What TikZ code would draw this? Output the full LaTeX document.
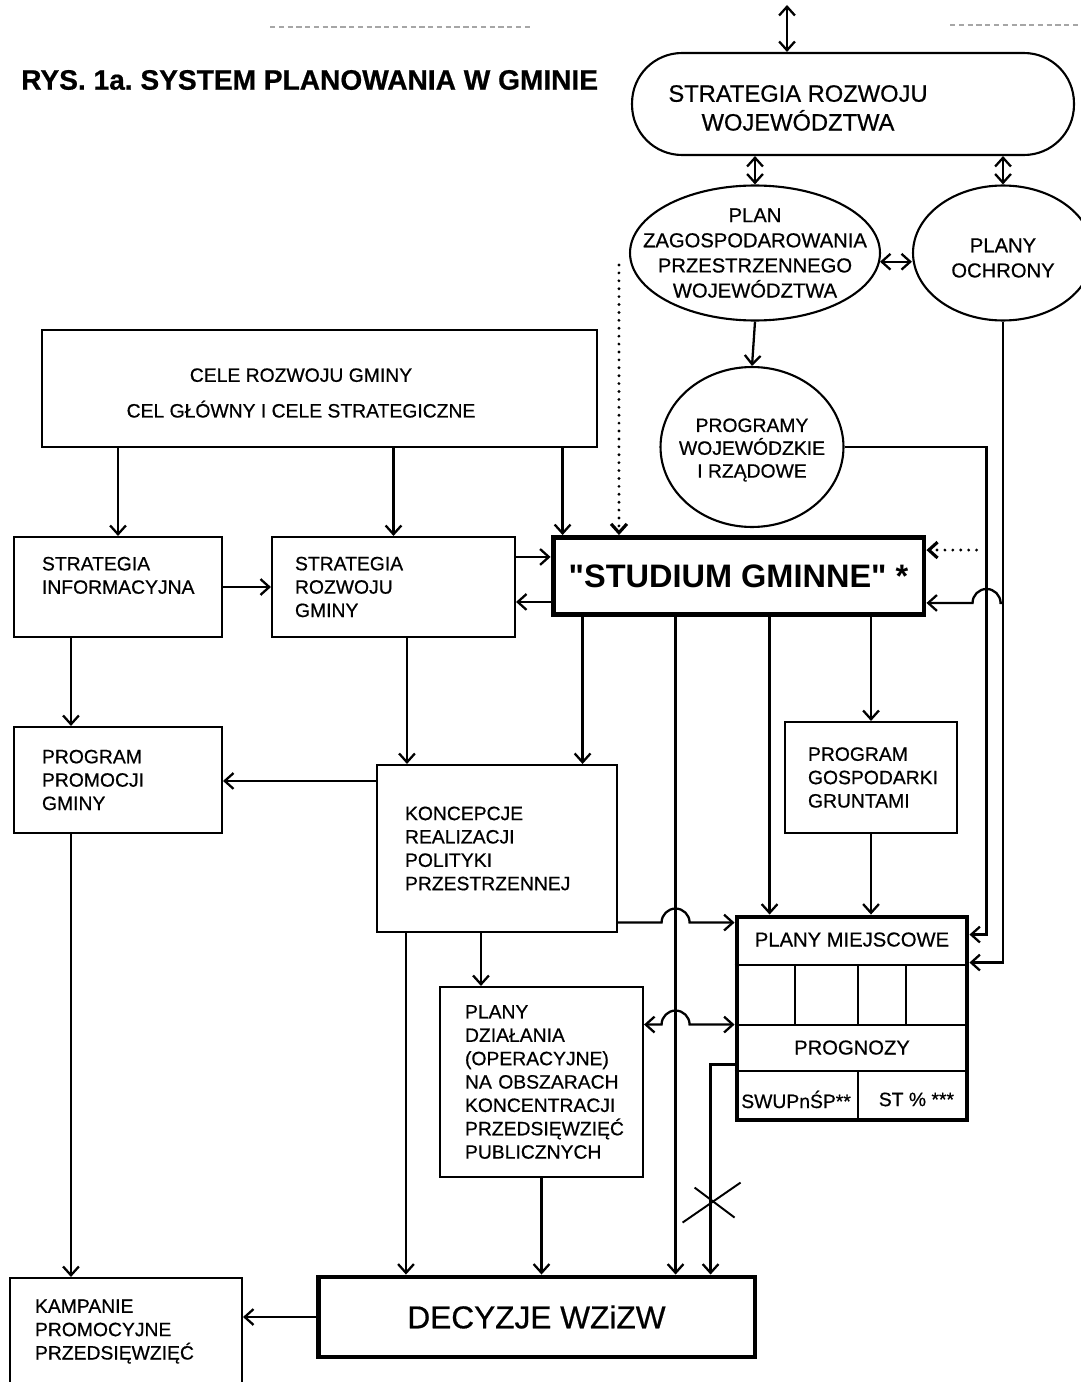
\documentclass[tikz,border=0pt]{standalone}
\usepackage{fontspec}
\setmainfont{Liberation Sans}[FakeBold=0.6]
\newfontfamily\plainquotes{Liberation Sans}
\usetikzlibrary{shapes.geometric, arrows.meta, calc, positioning}

\tikzstyle{box} = [rectangle, draw=black, line width=1.2pt, inner sep=0pt, align=left, font=\fontsize{11}{13.3}\selectfont]
\tikzstyle{heavybox} = [rectangle, draw=black, line width=2.8pt, inner sep=0pt, align=center]
\tikzstyle{oval} = [ellipse, draw=black, line width=1.2pt, inner sep=0pt]
\tikzstyle{ovaltext} = [align=center, font=\fontsize{11.5}{14.3}\selectfont]
\tikzstyle{arrow} = [line width=1.3pt, -{Straight Barb[length=5pt,width=9pt]}]
\tikzstyle{twoway} = [line width=1.3pt, {Straight Barb[length=5pt,width=9pt]}-{Straight Barb[length=5pt,width=9pt]}]
\tikzstyle{dotarrow} = [arrow, line width=1.8pt, line cap=round, dash pattern=on 0pt off 4.5pt]

\frenchspacing
\hyphenpenalty=10000
\begin{document}
\begin{tikzpicture}[x=0.02cm, y=-0.02cm]
	\useasboundingbox (0,0) rectangle (1080,1382);
	% Place nodes
	\node [anchor=west, font=\bfseries\fontsize{16}{19}\selectfont] (title) at (15,80) {RYS. 1a. SYSTEM PLANOWANIA W GMINIE};
	\node [draw, line width=1.2pt, rounded corners=1cm, minimum width=8.84cm, minimum height=2.04cm,
		label={[ovaltext, font=\fontsize{13.5}{16.4}\selectfont, xshift=-1.1cm, yshift=-0.08cm]center:STRATEGIA ROZWOJU\\WOJEWÓDZTWA}] (srw) at (853,104) {};
	\node [oval, minimum width=5cm, minimum height=2.7cm,
		label={[ovaltext]center:PLAN\\ZAGOSPODAROWANIA\\PRZESTRZENNEGO\\WOJEWÓDZTWA}] (plan) at (755,253) {};
	\node [oval, minimum width=3.6cm, minimum height=2.7cm,
		label={[ovaltext, yshift=-0.1cm]center:PLANY\\OCHRONY}] (ochr) at (1003,253) {};
	\node [oval, minimum width=3.66cm, minimum height=3.2cm,
		label={[ovaltext, font=\fontsize{11}{13}\selectfont, yshift=-0.06cm]center:PROGRAMY\\WOJEWÓDZKIE\\I RZĄDOWE}] (prog) at (752,447) {};
	\node [box, minimum width=11.1cm, minimum height=2.34cm,
		label={[align=center, font=\fontsize{11}{13.3}\selectfont, xshift=-0.37cm, yshift=-0.09cm]center:CELE ROZWOJU GMINY\\[7pt]CEL GŁÓWNY I CELE STRATEGICZNE}] (cele) at (319.5,388.5) {};
	\node [box, minimum width=4.16cm, minimum height=2cm, text width=3.04cm] (sinf) at (118,587) {STRATEGIA\\INFORMACYJNA\\\mbox{}};
	\node [box, minimum width=4.86cm, minimum height=2cm, text width=3.94cm] (srg) at (393.5,587) {STRATEGIA\\ROZWOJU\\GMINY};
	\node [heavybox, minimum width=7.42cm, minimum height=1.54cm, font=\plainquotes\bfseries\fontsize{18.5}{22}\selectfont] (studium) at (738.5,576) {"STUDIUM GMINNE" *};
	\node [box, minimum width=4.16cm, minimum height=2.12cm, text width=3.04cm] (prom) at (118,780) {PROGRAM\\PROMOCJI\\GMINY};
	\node [box, minimum width=3.44cm, minimum height=2.22cm, text width=2.52cm] (pgg) at (871,777.5) {PROGRAM\\GOSPODARKI\\GRUNTAMI};
	\node [box, minimum width=4.8cm, minimum height=3.34cm, text width=3.68cm] (konc) at (497,848.5) {KONCEPCJE\\REALIZACJI\\POLITYKI\\PRZESTRZENNEJ};
	\node [heavybox, minimum width=4.6cm, minimum height=4.06cm] (pm) at (852,1018.5) {};
	\node [box, minimum width=4.06cm, minimum height=3.8cm, text width=3.06cm] (pd) at (541.5,1082) {PLANY\\DZIAŁANIA\\(OPERACYJNE)\\NA~OBSZARACH\\KONCENTRACJI\\PRZEDSIĘWZIĘĆ\\PUBLICZNYCH};
	\node [box, minimum width=4.64cm, minimum height=2.14cm, text width=3.64cm] (kamp) at (126,1331.5) {KAMPANIE\\PROMOCYJNE\\PRZEDSIĘWZIĘĆ};
	\node [heavybox, minimum width=8.74cm, minimum height=1.6cm, font=\fontsize{18}{21}\selectfont] (dec) at (536.5,1317) {DECYZJE WZiZW};
	% Table of local plans
	\draw [line width=1.2pt] ($(pm.north west)+(0,50)$) -- ($(pm.north east)+(0,50)$);
	\draw [line width=1.2pt] ($(pm.north west)+(0,110)$) -- ($(pm.north east)+(0,110)$);
	\draw [line width=1.2pt] ($(pm.north west)+(0,156)$) -- ($(pm.north east)+(0,156)$);
	\foreach \dx in {60,123,171}
		\draw [line width=1.2pt] ($(pm.north west)+(\dx,50)$) -- ($(pm.north west)+(\dx,110)$);
	\draw [line width=1.2pt] ($(pm.north west)+(123,156)$) -- ($(pm.south west)+(123,0)$);
	\node [font=\fontsize{11.5}{14}\selectfont] (pmhead) at ($(pm.north)+(0,25)$) {PLANY MIEJSCOWE};
	\node [font=\fontsize{11.5}{14}\selectfont] (pmprog) at ($(pm.north)+(0,133)$) {PROGNOZY};
	\node [font=\fontsize{11}{13}\selectfont] (pmsw) at ($(pm.south west)+(61.5,-23)$) {SWUPnŚP**};
	\node [font=\fontsize{11}{13}\selectfont] (pmst) at ($(pm.south east)+(-53,-23)$) {ST \% ***};
	% Ports
	\coordinate (srwtop) at (787,5);
	\coordinate (pe) at (plan.-4);
	\coordinate (dtop) at ($(plan.west)+(-10,12)$);
	\coordinate (bend1) at ($(prog.east)+(142,0)$);
	\coordinate (str1) at ($(studium.north east)+(0,15)$);
	\coordinate (str2) at ($(studium.south east)+(0,-14)$);
	\coordinate (stn1) at ($(studium.north west)+(12,0)$);
	\coordinate (stw2) at ($(studium.south west)+(0,-15)$);
	\coordinate (sts1) at ($(studium.south west)+(32,0)$);
	\coordinate (sts3) at ($(studium.south west)+(125,0)$);
	\coordinate (sts4) at ($(studium.south west)+(219,0)$);
	\coordinate (sre1) at ($(srg.north east)+(0,21)$);
	\coordinate (srs) at ($(srg.south west)+(136,0)$);
	\coordinate (sfs) at ($(sinf.south west)+(58,0)$);
	\coordinate (pfs) at ($(prom.south west)+(58,0)$);
	\coordinate (kw) at ($(konc.north west)+(0,17)$);
	\coordinate (kss1) at ($(konc.south west)+(30,0)$);
	\coordinate (kss2) at ($(konc.south west)+(105,0)$);
	\coordinate (pml1) at ($(pm.north west)+(0,8)$);
	\coordinate (pml2) at ($(pm.north west)+(0,110)$);
	\coordinate (pml3) at ($(pm.north west)+(0,150)$);
	\coordinate (pmr1) at ($(pm.north east)+(0,20)$);
	\coordinate (pmr2) at ($(pm.north east)+(0,48)$);
	\coordinate (dn4) at ($(dec.north west)+(395,0)$);
	% Draw edges
	\draw [gray!70, densely dashed, line width=0.6pt] (270,27) -- (530,27);
	\draw [gray!70, densely dashed, line width=0.6pt] (950,25) -- (1080,25);
	\draw [twoway] (srwtop) -- (srwtop |- srw.north);
	\draw [twoway] (srw.south -| plan.north) -- (plan.north);
	\draw [twoway] (srw.south -| ochr.north) -- (ochr.north);
	\draw [twoway] (pe) -- (pe -| ochr.west);
	\draw [arrow] (plan.south) -- (prog.north);
	\draw [dotarrow] (dtop) -- (dtop |- studium.north);
	\draw [arrow] (prog.east) -- (bend1) |- (pmr1);
	\draw [arrow] (ochr.south) |- (pmr2);
	\draw [arrow] (ochr.south |- str2) -- ($(bend1 |- str2)+(14,0)$) arc [start angle=0, end angle=180, radius=0.28cm] -- (str2);
	\draw [dotarrow] ($(bend1 |- str1)+(-10,0)$) -- (str1);
	\draw [arrow] (cele.south -| sinf.north) -- (sinf.north);
	\draw [arrow] (cele.south -| srg.north) -- (srg.north);
	\draw [arrow] (cele.south -| stn1) -- (stn1);
	\draw [arrow] (sinf.east) -- (sinf.east -| srg.west);
	\draw [arrow] (sre1) -- (sre1 -| studium.west);
	\draw [arrow] (stw2) -- (stw2 -| srg.east);
	\draw [arrow] (sfs) -- (sfs |- prom.north);
	\draw [arrow] (pfs) -- (pfs |- kamp.north);
	\draw [arrow] (kw) -- (kw -| prom.east);
	\draw [arrow] (srs) -- (srs |- konc.north);
	\draw [arrow] (sts1) -- (sts1 |- konc.north);
	\draw [arrow] (sts3) -- (sts3 |- dec.north);
	\draw [arrow] (sts4) -- (sts4 |- pm.north);
	\draw [arrow] (studium.south -| pgg.north) -- (pgg.north);
	\draw [arrow] (pgg.south) -- (pgg.south |- pm.north);
	\draw [arrow] (kss1) -- (kss1 |- dec.north);
	\draw [arrow] (kss2) -- (kss2 |- pd.north);
	\draw [arrow] (pd.south) -- (pd.south |- dec.north);
	\draw [arrow] (pml1 -| konc.east) -- ($(sts3 |- pml1)+(-14,0)$) arc [start angle=180, end angle=0, radius=0.28cm] -- (pml1);
	\draw [twoway] (pml2 -| pd.east) -- ($(sts3 |- pml2)+(-14,0)$) arc [start angle=180, end angle=0, radius=0.28cm] -- (pml2);
	\draw [arrow] (pml3) -| (dn4);
	\draw [line width=1.1pt] ($(dn4)+(-28,-52)$) -- ($(dn4)+(30,-92)$);
	\draw [line width=1.1pt] ($(dn4)+(-16,-87)$) -- ($(dn4)+(24,-57)$);
	\draw [arrow] (dec.west) -- (dec.west -| kamp.east);
\end{tikzpicture}
\end{document}
